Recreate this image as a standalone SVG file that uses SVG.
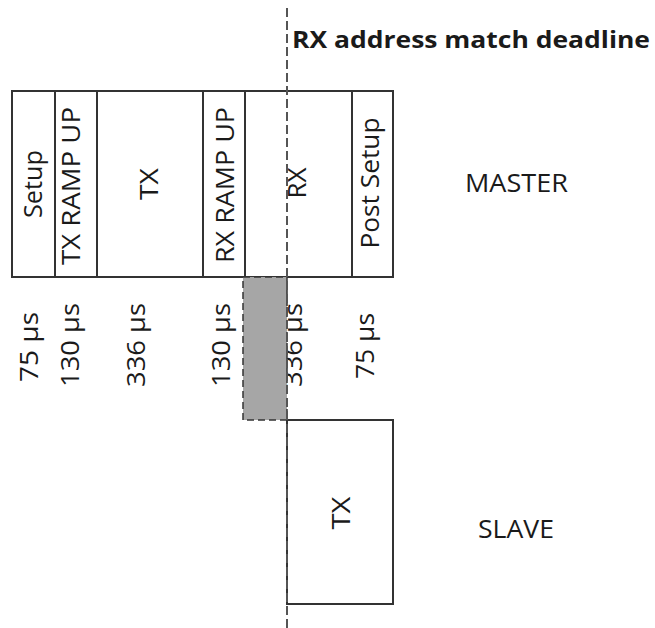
<svg xmlns="http://www.w3.org/2000/svg" width="655" height="628" viewBox="0 0 655 628">
<style>
.box{fill:#fff;stroke:#333;stroke-width:2}
.t{font-family:"Open Sans","Liberation Sans",sans-serif;font-size:25px;fill:#1a1a1a}
.r{text-anchor:middle}
.b{font-weight:bold;font-size:22.5px}
.dash{stroke:#555;stroke-width:2;stroke-dasharray:9 4;fill:none}
</style>
<rect width="655" height="628" fill="#fff"/>
<g id="master">
<rect class="box" x="12" y="91" width="381" height="186"/>
<line class="box" x1="55" y1="91" x2="55" y2="277"/>
<line class="box" x1="97" y1="91" x2="97" y2="277"/>
<line class="box" x1="203" y1="91" x2="203" y2="277"/>
<line class="box" x1="245" y1="91" x2="245" y2="277"/>
<line class="box" x1="352" y1="91" x2="352" y2="277"/>
<text class="t r" transform="translate(42,184) rotate(-90)" textLength="68" lengthAdjust="spacingAndGlyphs">Setup</text>
<text class="t r" transform="translate(80,186) rotate(-90)" textLength="158" lengthAdjust="spacingAndGlyphs">TX RAMP UP</text>
<text class="t r" transform="translate(158,184) rotate(-90)" textLength="32" lengthAdjust="spacingAndGlyphs">TX</text>
<text class="t r" transform="translate(234,185) rotate(-90)" textLength="156" lengthAdjust="spacingAndGlyphs">RX RAMP UP</text>
<text class="t r" transform="translate(306,183) rotate(-90)" textLength="31" lengthAdjust="spacingAndGlyphs">RX</text>
<text class="t r" transform="translate(379,183) rotate(-90)" textLength="131" lengthAdjust="spacingAndGlyphs">Post Setup</text>
<text class="t" x="465" y="192" textLength="103" lengthAdjust="spacingAndGlyphs">MASTER</text>
</g>
<g id="durations">
<text class="t r" transform="translate(38,347) rotate(-90)" textLength="70" lengthAdjust="spacingAndGlyphs">75 µs</text>
<text class="t r" transform="translate(79,345) rotate(-90)" textLength="84" lengthAdjust="spacingAndGlyphs">130 µs</text>
<text class="t r" transform="translate(145,345) rotate(-90)" textLength="84" lengthAdjust="spacingAndGlyphs">336 µs</text>
<text class="t r" transform="translate(230,345) rotate(-90)" textLength="84" lengthAdjust="spacingAndGlyphs">130 µs</text>
<text class="t r" transform="translate(302,345) rotate(-90)" textLength="84" lengthAdjust="spacingAndGlyphs">336 µs</text>
<text class="t r" transform="translate(374,346) rotate(-90)" textLength="66" lengthAdjust="spacingAndGlyphs">75 µs</text>
</g>
<g id="window">
<rect x="243" y="277" width="44" height="143" fill="#a6a6a6" stroke="#333" stroke-width="1.5" stroke-dasharray="7 4"/>
</g>
<g id="slave">
<rect class="box" x="287" y="420" width="106" height="184"/>
<text class="t r" transform="translate(350,513) rotate(-90)" textLength="33" lengthAdjust="spacingAndGlyphs">TX</text>
<text class="t" x="478" y="538" textLength="76" lengthAdjust="spacingAndGlyphs">SLAVE</text>
</g>
<g id="connectors">
<line class="dash" x1="287" y1="8" x2="287" y2="628"/>
</g>
<g id="deadline">
<text class="t b" x="292" y="48" textLength="358" lengthAdjust="spacingAndGlyphs">RX address match deadline</text>
</g>
</svg>
